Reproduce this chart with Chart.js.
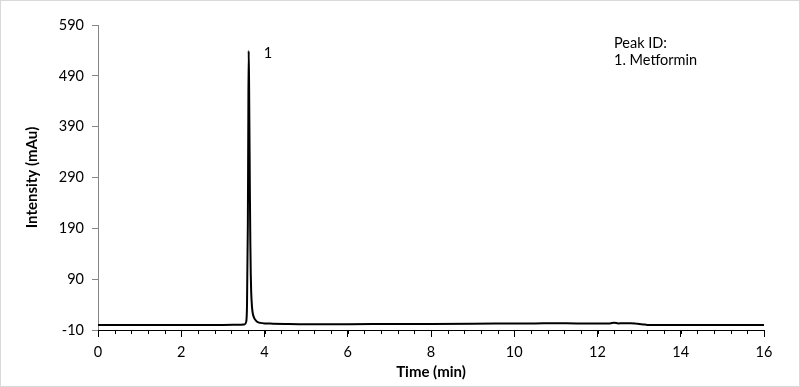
<!DOCTYPE html>
<html>
<head>
<meta charset="utf-8">
<script src="https://cdn.jsdelivr.net/npm/chart.js@4/dist/chart.umd.min.js"></script>
<style>
html,body{margin:0;padding:0;background:#fff;}
canvas{display:block;}
</style>
</head>
<body>
<canvas id="c" width="800" height="387"></canvas>
<script>
// ---- data ----
const timeMin = [0, 1, 2, 3, 3.4, 3.52, 3.56, 3.58, 3.6, 3.61, 3.62, 3.63, 3.64, 3.65, 3.66, 3.67, 3.68, 3.7, 3.72, 3.75, 3.8, 3.85, 3.9, 4.0, 4.2, 4.5, 5, 6, 7, 8, 9, 10, 10.5, 11, 11.5, 12, 12.3, 12.4, 12.5, 12.6, 12.8, 12.9, 13.0, 13.1, 13.2, 13.4, 14, 15, 16];
const intensity = [0, 0, 0, 0, 0.2, 1, 6, 40, 200, 380, 539, 470, 360, 250, 160, 100, 65, 35, 22, 14, 8, 5, 4, 3, 2.5, 2, 1.5, 1.5, 1.8, 2, 2.3, 2.8, 3, 3.5, 3, 3, 3, 4.5, 3, 3.5, 3.5, 3, 2, 1, 0, -0.3, -0.3, -0.3, -0.3];
const yTickValues = [-10, 90, 190, 290, 390, 490, 590];
const xMajorTicks = [0, 2, 4, 6, 8, 10, 12, 14, 16];
const xMinorStep = 0.4;
const peakLabels = [{ label: '1', time: 3.62, value: 539 }];
const legendLines = ['Peak ID:', '1. Metformin'];

const FONT = 'Lato, "Open Sans", sans-serif';
const FS = 14.5;

const points = timeMin.map((t, i) => ({ x: t, y: intensity[i] }));

const extras = {
  id: 'extras',
  beforeDraw(chart) {
    const ctx = chart.ctx;
    ctx.save();
    ctx.fillStyle = '#fff';
    ctx.fillRect(0, 0, chart.width, chart.height);
    ctx.strokeStyle = '#d9d9d9';
    ctx.lineWidth = 1;
    ctx.strokeRect(0.5, 0.5, chart.width - 1, chart.height - 1);
    ctx.restore();
  },
  afterDraw(chart) {
    const ctx = chart.ctx;
    const xs = chart.scales.x, ys = chart.scales.y;
    ctx.save();
    // minor ticks on x axis
    ctx.strokeStyle = '#000';
    ctx.lineWidth = 1;
    const n = Math.round((xs.max - xs.min) / xMinorStep);
    for (let i = 0; i <= n; i++) {
      const v = xs.min + i * xMinorStep;
      const px = Math.round(xs.getPixelForValue(v)) + 0.5;
      ctx.beginPath();
      ctx.moveTo(px, ys.bottom);
      ctx.lineTo(px, ys.bottom + 4);
      ctx.stroke();
    }
    // peak labels
    ctx.fillStyle = '#000';
    ctx.font = FS + 'px ' + FONT;
    ctx.textAlign = 'left';
    ctx.textBaseline = 'middle';
    peakLabels.forEach(p => {
      ctx.fillText(p.label, xs.getPixelForValue(p.time) + 15, ys.getPixelForValue(p.value) + 2);
    });
    // legend text
    legendLines.forEach((t, i) => {
      ctx.fillText(t, 614, 43 + i * 17);
    });
    ctx.restore();
  }
};

new Chart(document.getElementById('c'), {
  type: 'line',
  data: {
    datasets: [{
      data: points,
      borderColor: '#000',
      borderWidth: 2,
      pointRadius: 0,
      fill: false,
      cubicInterpolationMode: 'monotone'
    }]
  },
  options: {
    responsive: false,
    animation: false,
    devicePixelRatio: 1,
    layout: { padding: { left: 0, right: 36, top: 25, bottom: 0 } },
    plugins: { legend: { display: false }, tooltip: { enabled: false } },
    scales: {
      x: {
        type: 'linear',
        min: 0, max: 16,
        afterBuildTicks(scale) { scale.ticks = xMajorTicks.map(v => ({ value: v })); },
        afterFit(scale) { scale.height = 57; },
        border: { color: '#000', width: 1 },
        grid: { drawOnChartArea: false, tickLength: 7, color: '#000' },
        ticks: { color: '#000', font: { family: FONT, size: FS }, padding: 7, maxRotation: 0, autoSkip: false },
        title: { display: true, text: 'Time (min)', color: '#000', font: { family: FONT, size: 15, weight: 'bold' }, padding: { top: 0, bottom: 6 } }
      },
      y: {
        type: 'linear',
        min: -10, max: 590,
        afterBuildTicks(scale) { scale.ticks = yTickValues.map(v => ({ value: v })); },
        afterFit(scale) { scale.width = 98; },
        border: { color: '#868686', width: 1 },
        grid: { drawOnChartArea: false, tickLength: 6, color: '#868686' },
        ticks: { color: '#000', font: { family: FONT, size: FS }, padding: 8, autoSkip: false },
        title: { display: true, text: 'Intensity (mAu)', color: '#000', font: { family: FONT, size: 15, weight: 'bold' }, padding: { top: 23, bottom: 0 } }
      }
    }
  },
  plugins: [extras]
});
</script>
</body>
</html>
